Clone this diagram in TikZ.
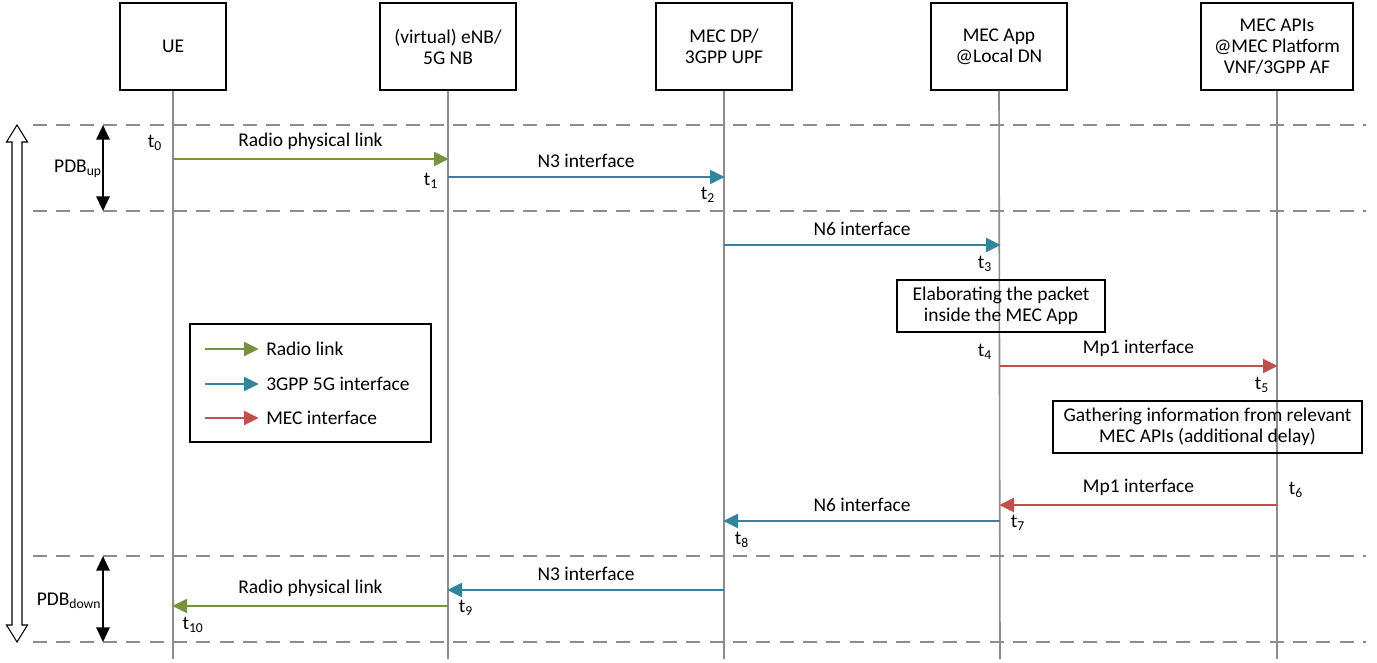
\documentclass[tikz,border=0pt]{standalone}
\usepackage{fontspec}
\setmainfont{Carlito}
\usepackage{tikz}
\usetikzlibrary{arrows.meta}
\definecolor{radiogreen}{RGB}{118,146,60}
\definecolor{gppteal}{RGB}{49,133,155}
\definecolor{mecred}{RGB}{192,80,77}
\definecolor{lifegray}{RGB}{140,140,140}

\begin{document}
\begin{tikzpicture}[x=0.75pt,y=0.75pt,yscale=-1,xscale=1,
    font=\fontsize{14.6}{15.8}\selectfont,
    headbox/.style={draw,line width=0.8pt,align=center,minimum height=65.25pt,inner sep=1pt},
    notebox/.style={draw,line width=0.8pt,align=center,minimum height=39pt,inner sep=1pt},
    lifeline/.style={draw=lifegray,line width=1.2pt},
    budget/.style={draw=lifegray,line width=1.4pt,dash pattern=on 10.5pt off 7pt},
    radio/.style={draw=radiogreen,line width=1.6pt,-{Triangle[length=11pt,width=10.5pt]},shorten >=-0.5pt},
    gpp/.style={draw=gppteal,line width=1.6pt,-{Triangle[length=11pt,width=10.5pt]},shorten >=-0.5pt},
    mec/.style={draw=mecred,line width=1.6pt,-{Triangle[length=11pt,width=10.5pt]},shorten >=-0.5pt},
    pdb/.style={line width=1.5pt,{Triangle[length=11pt,width=10pt]}-{Triangle[length=11pt,width=10pt]}},
    tlabel/.style={inner sep=0pt}]
        \useasboundingbox (0,0) rectangle (1377,662);

        %Shape: Rectangle heads
        \node [headbox,minimum width=79.5pt] (ue) at (173,46.5) {UE};
        \node [headbox,minimum width=102pt] (enb) at (448,46.5) {(virtual) eNB/\\5G NB};
        \node [headbox,minimum width=102pt] (upf) at (724,46.5) {MEC DP/\\3GPP UPF};
        \node [headbox,minimum width=102pt] (app) at (999,46.5) {MEC App\\@Local DN};
        \node [headbox,minimum width=114pt] (api) at (1277,46.5) {MEC APIs\\@MEC Platform\\VNF/3GPP AF};

        %Straight Lines (lifelines)
        \coordinate (ue-end) at (173,659);
        \coordinate (enb-end) at (448,659);
        \coordinate (upf-end) at (724,659);
        \coordinate (app-end) at (1000,659);
        \coordinate (api-end) at (1277,659);
        \draw [lifeline] (ue.south) -- (ue-end);
        \draw [lifeline] (enb.south) -- (enb-end);
        \draw [lifeline] (upf.south) -- (upf-end);
        \draw [lifeline] (app.south) -- (app-end);
        \draw [lifeline] (api.south) -- (api-end);

        %Dashed Lines
        \coordinate (b1l) at (33,125);  \coordinate (b1r) at (1366,125);
        \coordinate (b2l) at (33,211);  \coordinate (b2r) at (1366,211);
        \coordinate (b3l) at (33,556);  \coordinate (b3r) at (1366,556);
        \coordinate (b4l) at (33,642);  \coordinate (b4r) at (1366,642);
        \draw [budget] (b1l) -- (b1r);
        \draw [budget] (b2l) -- (b2r);
        \draw [budget] (b3l) -- (b3r);
        \draw [budget] (b4l) -- (b4r);

        %Shape: hollow double arrow
        \draw [line width=0.8pt] (12,142) -- (6.5,142) -- (17,125) -- (27.5,142) -- (22,142) -- (22,625) -- (27.5,625) -- (17,642) -- (6.5,625) -- (12,625) -- cycle ;

        %Straight Lines (packet delay budgets)
        \coordinate (up-top) at (103,125);
        \coordinate (up-bot) at (103,211);
        \coordinate (dn-top) at (103,556);
        \coordinate (dn-bot) at (103,642);
        \draw [pdb] (up-top) -- (up-bot);
        \draw [pdb] (dn-top) -- (dn-bot);
        % Text Node
        \node (pdbup) at (78,169) {PDB\textsubscript{up}};
        % Text Node
        \node (pdbdown) at (69,601) {PDB\textsubscript{down}};

        %Uplink messages
        \coordinate (m1a) at (173,159);  \coordinate (m1b) at (448,159);
        \coordinate (m2a) at (448,177);  \coordinate (m2b) at (724,177);
        \coordinate (m3a) at (724,245);  \coordinate (m3b) at (1000,245);
        \coordinate (m4a) at (1000,366); \coordinate (m4b) at (1277,366);
        \draw [radio] (m1a) -- node [above=3pt] (l1) {Radio physical link} (m1b);
        \draw [gpp] (m2a) -- node [above=3pt] (l2) {N3 interface} (m2b);
        \draw [gpp] (m3a) -- node [above=3pt] (l3) {N6 interface} (m3b);
        \draw [mec] (m4a) -- node [above=3pt] (l4) {Mp1 interface} (m4b);

        %Downlink messages
        \coordinate (m5a) at (1277,505); \coordinate (m5b) at (1000,505);
        \coordinate (m6a) at (1000,521); \coordinate (m6b) at (724,521);
        \coordinate (m7a) at (724,590);  \coordinate (m7b) at (448,590);
        \coordinate (m8a) at (448,606);  \coordinate (m8b) at (173,606);
        \draw [mec] (m5a) -- node [above=3pt] (l5) {Mp1 interface} (m5b);
        \draw [gpp] (m6a) -- node [above=3pt] (l6) {N6 interface} (m6b);
        \draw [gpp] (m7a) -- node [above=3pt] (l7) {N3 interface} (m7b);
        \draw [radio] (m8a) -- node [above=3pt] (l8) {Radio physical link} (m8b);

        %Shape: Rectangle notes
        \node [notebox,minimum width=156pt] (elab) at (1001,306) {Elaborating the packet\\inside the MEC App};
        \node [notebox,minimum width=231.75pt] (gather) at (1207.5,427) {Gathering information from relevant\\MEC APIs (additional delay)};

        % Text Node (time stamps)
        \node [tlabel] (t0) at (155,143) {t\textsubscript{0}};
        \node [tlabel] (t1) at (431,181) {t\textsubscript{1}};
        \node [tlabel] (t2) at (708,195) {t\textsubscript{2}};
        \node [tlabel] (t3) at (985,264) {t\textsubscript{3}};
        \node [tlabel] (t4) at (985,352) {t\textsubscript{4}};
        \node [tlabel] (t5) at (1262,385) {t\textsubscript{5}};
        \node [tlabel] (t6) at (1296,490) {t\textsubscript{6}};
        \node [tlabel] (t7) at (1018,523) {t\textsubscript{7}};
        \node [tlabel] (t8) at (742,540) {t\textsubscript{8}};
        \node [tlabel] (t9) at (466,608) {t\textsubscript{9}};
        \node [tlabel] (t10) at (193,625) {t\textsubscript{10}};

        %Legend
        \node [draw,line width=0.8pt,minimum width=180.75pt,minimum height=88.5pt] (legend) at (310.5,383) {};
        \coordinate (g1a) at (205,349); \coordinate (g1b) at (258,349);
        \coordinate (g2a) at (205,384); \coordinate (g2b) at (258,384);
        \coordinate (g3a) at (205,418); \coordinate (g3b) at (258,418);
        \draw [radio] (g1a) -- (g1b);
        \draw [gpp] (g2a) -- (g2b);
        \draw [mec] (g3a) -- (g3b);
        \node [anchor=west,inner sep=0pt] (k1) at (266,349) {Radio link};
        \node [anchor=west,inner sep=0pt] (k2) at (266,384) {3GPP 5G interface};
        \node [anchor=west,inner sep=0pt] (k3) at (266,418) {MEC interface};

\end{tikzpicture}
\end{document}
